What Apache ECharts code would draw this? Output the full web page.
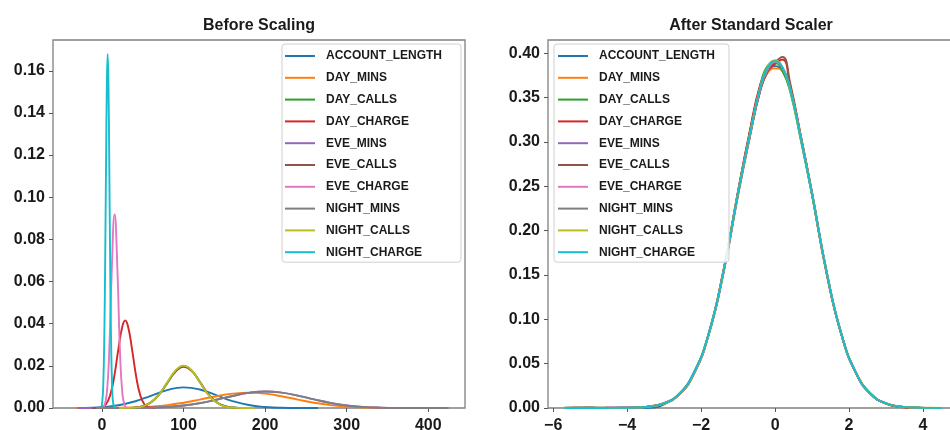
<!DOCTYPE html>
<html>
<head>
<meta charset="utf-8">
<title>Feature densities before and after scaling</title>
<script src="https://cdn.jsdelivr.net/npm/echarts@6/dist/echarts.min.js"></script>
<style>
  html, body { margin: 0; padding: 0; background: #fff; }
  #chart { width: 950px; height: 430px; }
</style>
</head>
<body>
<div id="chart"></div>
<script>
// Feature names, in plotting order
const FEATURES = ['ACCOUNT_LENGTH', 'DAY_MINS', 'DAY_CALLS', 'DAY_CHARGE', 'EVE_MINS',
  'EVE_CALLS', 'EVE_CHARGE', 'NIGHT_MINS', 'NIGHT_CALLS', 'NIGHT_CHARGE'];
const COLORS = ['#1f77b4', '#ff7f0e', '#2ca02c', '#d62728', '#9467bd',
  '#8c564b', '#e377c2', '#7f7f7f', '#bcbd22', '#17becf'];

// Tick labels
const RAW_X_TICKS = [0, 100, 200, 300, 400];
const RAW_Y_TICKS = [0, 0.02, 0.04, 0.06, 0.08, 0.10, 0.12, 0.14, 0.16];
const SCALED_X_TICKS = [-6, -4, -2, 0, 2, 4];
const SCALED_Y_TICKS = [0, 0.05, 0.10, 0.15, 0.20, 0.25, 0.30, 0.35, 0.40];

// Density curves of the raw features (x = feature value, y = density)
const RAW_ACCOUNT_LENGTH_X = [-22, 0, 20, 40, 60, 80, 100, 120, 140, 160, 180, 200, 220, 245, 265];
const RAW_ACCOUNT_LENGTH_Y = [0, 0.0004, 0.0013, 0.0031, 0.0058, 0.0085, 0.0098, 0.0088, 0.0061, 0.0033, 0.0014, 0.0005, 0.00012, 0.00002, 0];

const RAW_DAY_MINS_X = [-32, 0, 40, 60, 80, 100, 120, 140, 160, 180, 200, 220, 240, 260, 280, 300, 320, 350, 383];
const RAW_DAY_MINS_Y = [0, 0.00003, 0.00027, 0.00065, 0.00136, 0.0025, 0.0040, 0.0056, 0.0068, 0.0073, 0.0068, 0.0056, 0.0040, 0.0025, 0.00136, 0.00065, 0.00027, 0.00005, 0];

const RAW_DAY_CALLS_X = [-12, 0, 30, 40, 50, 60, 70, 80, 90, 100, 110, 120, 130, 140, 150, 160, 177];
const RAW_DAY_CALLS_Y = [0, 0.00005, 0.00005, 0.0002, 0.00085, 0.0026, 0.0063, 0.0118, 0.0173, 0.0198, 0.0177, 0.0123, 0.0067, 0.0028, 0.0009, 0.00025, 0];

const RAW_DAY_CHARGE_X = [-5, 0, 5, 10, 15, 20, 25, 28.5, 32, 37, 42, 47, 52, 57, 62, 66];
const RAW_DAY_CHARGE_Y = [0, 0.0004, 0.0018, 0.0060, 0.0148, 0.0276, 0.0387, 0.0415, 0.0387, 0.0276, 0.0148, 0.0060, 0.0018, 0.0004, 0.0001, 0];

const RAW_EVE_MINS_X = [-30, 0, 40, 60, 80, 100, 120, 140, 160, 180, 201, 220, 240, 260, 280, 300, 320, 340, 365, 394];
const RAW_EVE_MINS_Y = [0, 0.00001, 0.00006, 0.00019, 0.0005, 0.00116, 0.0023, 0.0039, 0.0057, 0.0072, 0.0078, 0.0073, 0.0059, 0.0041, 0.0024, 0.00125, 0.00055, 0.0002, 0.00005, 0];

const RAW_EVE_CALLS_X = [-12, 0, 30, 40, 50, 60, 70, 80, 90, 100, 110, 120, 130, 140, 150, 160, 170, 182];
const RAW_EVE_CALLS_Y = [0, 0.00005, 0.00006, 0.0002, 0.0009, 0.0027, 0.0065, 0.0119, 0.0172, 0.0196, 0.0176, 0.0124, 0.0068, 0.0029, 0.0010, 0.0003, 0.00006, 0];

const RAW_EVE_CHARGE_X = [-3, 0, 3, 6, 9, 12, 15.5, 19, 22, 25, 28, 31, 34];
const RAW_EVE_CHARGE_Y = [0, 0.0001, 0.0011, 0.0071, 0.0278, 0.0650, 0.0920, 0.0650, 0.0278, 0.0071, 0.0011, 0.0001, 0];

const RAW_NIGHT_MINS_X = [-7, 40, 60, 80, 100, 120, 140, 160, 180, 201, 220, 240, 260, 280, 300, 320, 340, 370, 400, 425];
const RAW_NIGHT_MINS_Y = [0, 0.00006, 0.0002, 0.0005, 0.0012, 0.0023, 0.0039, 0.0057, 0.0072, 0.0078, 0.0073, 0.0059, 0.0041, 0.0024, 0.0012, 0.00055, 0.0002, 0.00003, 0.00001, 0];

const RAW_NIGHT_CALLS_X = [21, 30, 40, 50, 60, 70, 80, 90, 100, 110, 120, 130, 140, 150, 160, 175, 187];
const RAW_NIGHT_CALLS_Y = [0, 0.00004, 0.0002, 0.0008, 0.0027, 0.0064, 0.0121, 0.0177, 0.0201, 0.0178, 0.0123, 0.0065, 0.0027, 0.0008, 0.0002, 0.00002, 0];

const RAW_NIGHT_CHARGE_X = [-1, 0, 1.5, 3, 4, 5, 6, 7, 8, 9, 10, 11, 12.5, 14, 16];
const RAW_NIGHT_CHARGE_Y = [0, 0.0016, 0.0096, 0.0370, 0.0718, 0.1150, 0.1530, 0.1680, 0.1530, 0.1150, 0.0718, 0.0370, 0.0096, 0.0016, 0];

// Density curves after standard scaling, all on one grid of z-scores
const SCALED_X = [-5.7, -5.4, -5.0, -4.6, -4.2, -3.8, -3.4, -3.0, -2.6, -2.2, -1.8, -1.4, -1.0, -0.7, -0.4,
  -0.2, 0, 0.2, 0.4, 0.7, 1.0, 1.4, 1.8, 2.2, 2.6, 3.0, 3.4, 3.8, 4.2, 4.5];
const SCALED_ACCOUNT_LENGTH = [0, 0, 0, 0, 0, 0, 0.0003, 0.0042, 0.0158, 0.0398, 0.0835, 0.1530, 0.2425, 0.3030, 0.3580,
  0.3790, 0.3855, 0.3800, 0.3600, 0.3050, 0.2430, 0.1520, 0.0815, 0.0380, 0.0150, 0.0050, 0.0014, 0.0003, 0, 0];
const SCALED_DAY_MINS = [0, 0, 0, 0, 0, 0.0002, 0.0018, 0.0055, 0.0150, 0.0380, 0.0830, 0.1540, 0.2440, 0.3060, 0.3590,
  0.3780, 0.3830, 0.3800, 0.3620, 0.3060, 0.2410, 0.1510, 0.0820, 0.0390, 0.0155, 0.0050, 0.0012, 0.0002, 0, 0];
const SCALED_DAY_CALLS = [0, 0.0003, 0.0006, 0.0002, 0.0002, 0.0004, 0.0015, 0.0050, 0.0155, 0.0390, 0.0830, 0.1535, 0.2440, 0.3080, 0.3640,
  0.3860, 0.3890, 0.3800, 0.3580, 0.3010, 0.2400, 0.1520, 0.0820, 0.0385, 0.0150, 0.0052, 0.0015, 0.0003, 0, 0];
const SCALED_DAY_CHARGE = [0, 0, 0, 0, 0, 0.0002, 0.0018, 0.0055, 0.0150, 0.0380, 0.0825, 0.1545, 0.2450, 0.3090, 0.3650,
  0.3800, 0.3880, 0.3930, 0.3650, 0.3040, 0.2400, 0.1500, 0.0820, 0.0390, 0.0155, 0.0050, 0.0012, 0.0002, 0, 0];
const SCALED_EVE_MINS = [0, 0, 0.0001, 0.0002, 0.0004, 0.0006, 0.0016, 0.0052, 0.0150, 0.0385, 0.0820, 0.1520, 0.2420, 0.3040, 0.3600,
  0.3820, 0.3900, 0.3840, 0.3620, 0.3050, 0.2420, 0.1520, 0.0820, 0.0382, 0.0150, 0.0052, 0.0015, 0.0004, 0.0001, 0];
const SCALED_EVE_CALLS = [0.0002, 0.0006, 0.0005, 0.0002, 0.0002, 0.0005, 0.0016, 0.0050, 0.0150, 0.0382, 0.0818, 0.1510, 0.2400, 0.3020, 0.3580,
  0.3800, 0.3900, 0.3960, 0.3680, 0.3060, 0.2420, 0.1520, 0.0825, 0.0385, 0.0152, 0.0052, 0.0016, 0.0004, 0.0001, 0];
const SCALED_EVE_CHARGE = [0, 0, 0.0001, 0.0002, 0.0004, 0.0006, 0.0016, 0.0052, 0.0150, 0.0386, 0.0822, 0.1522, 0.2420, 0.3040, 0.3600,
  0.3820, 0.3900, 0.3840, 0.3620, 0.3050, 0.2420, 0.1520, 0.0822, 0.0382, 0.0150, 0.0052, 0.0015, 0.0004, 0.0001, 0];
const SCALED_NIGHT_MINS = [0, 0, 0, 0, 0.0002, 0.0005, 0.0017, 0.0054, 0.0155, 0.0390, 0.0830, 0.1530, 0.2430, 0.3050, 0.3620,
  0.3840, 0.3920, 0.3840, 0.3610, 0.3030, 0.2410, 0.1520, 0.0825, 0.0388, 0.0155, 0.0053, 0.0016, 0.0005, 0.0001, 0];
const SCALED_NIGHT_CALLS = [0, 0, 0, 0, 0.0001, 0.0004, 0.0016, 0.0052, 0.0152, 0.0385, 0.0825, 0.1530, 0.2430, 0.3050, 0.3620,
  0.3850, 0.3920, 0.3840, 0.3600, 0.3030, 0.2410, 0.1520, 0.0825, 0.0388, 0.0155, 0.0053, 0.0016, 0.0005, 0.0002, 0];
const SCALED_NIGHT_CHARGE = [0, 0, 0, 0, 0.0002, 0.0005, 0.0017, 0.0054, 0.0155, 0.0390, 0.0830, 0.1530, 0.2430, 0.3050, 0.3620,
  0.3840, 0.3910, 0.3840, 0.3610, 0.3030, 0.2410, 0.1520, 0.0825, 0.0388, 0.0155, 0.0053, 0.0016, 0.0005, 0.0001, 0];

const RAW_X = {
  ACCOUNT_LENGTH: RAW_ACCOUNT_LENGTH_X, DAY_MINS: RAW_DAY_MINS_X, DAY_CALLS: RAW_DAY_CALLS_X,
  DAY_CHARGE: RAW_DAY_CHARGE_X, EVE_MINS: RAW_EVE_MINS_X, EVE_CALLS: RAW_EVE_CALLS_X,
  EVE_CHARGE: RAW_EVE_CHARGE_X, NIGHT_MINS: RAW_NIGHT_MINS_X, NIGHT_CALLS: RAW_NIGHT_CALLS_X,
  NIGHT_CHARGE: RAW_NIGHT_CHARGE_X
};
const RAW_Y = {
  ACCOUNT_LENGTH: RAW_ACCOUNT_LENGTH_Y, DAY_MINS: RAW_DAY_MINS_Y, DAY_CALLS: RAW_DAY_CALLS_Y,
  DAY_CHARGE: RAW_DAY_CHARGE_Y, EVE_MINS: RAW_EVE_MINS_Y, EVE_CALLS: RAW_EVE_CALLS_Y,
  EVE_CHARGE: RAW_EVE_CHARGE_Y, NIGHT_MINS: RAW_NIGHT_MINS_Y, NIGHT_CALLS: RAW_NIGHT_CALLS_Y,
  NIGHT_CHARGE: RAW_NIGHT_CHARGE_Y
};
const SCALED_Y = {
  ACCOUNT_LENGTH: SCALED_ACCOUNT_LENGTH, DAY_MINS: SCALED_DAY_MINS, DAY_CALLS: SCALED_DAY_CALLS,
  DAY_CHARGE: SCALED_DAY_CHARGE, EVE_MINS: SCALED_EVE_MINS, EVE_CALLS: SCALED_EVE_CALLS,
  EVE_CHARGE: SCALED_EVE_CHARGE, NIGHT_MINS: SCALED_NIGHT_MINS, NIGHT_CALLS: SCALED_NIGHT_CALLS,
  NIGHT_CHARGE: SCALED_NIGHT_CHARGE
};

const FONT = "'Liberation Sans', Arial, Helvetica, sans-serif";
const zip = (xs, ys) => xs.map((x, i) => [x, ys[i]]);
const minus = (v) => String(v).replace('-', '\u2212');

function valueAxis(gridIndex, min, max, ticks, fmt, isX) {
  return {
    type: 'value', gridIndex, min, max,
    axisLine: { show: false, onZero: false },
    splitLine: { show: false },
    axisTick: {
      show: true, inside: false, length: 4, customValues: ticks,
      lineStyle: { color: '#555', width: 1 }
    },
    axisLabel: {
      customValues: ticks, formatter: fmt, margin: isX ? 10 : 8,
      fontFamily: FONT, fontSize: 16, fontWeight: 'bold', color: '#1a1a1a'
    }
  };
}

function legendAt(left, pad) {
  return {
    orient: 'vertical', left, top: 44, data: FEATURES,
    icon: 'rect', itemWidth: 30, itemHeight: 2, itemGap: 7.8,
    selectedMode: false, padding: pad,
    borderColor: '#cfcfcf', borderWidth: 1, borderRadius: 3,
    backgroundColor: 'rgba(255,255,255,0.85)',
    textStyle: {
      fontFamily: FONT, fontSize: 12, fontWeight: 'bold', color: '#1a1a1a',
      lineHeight: 14, padding: [0, 0, 0, 6]
    }
  };
}

function curve(name, i, axisIndex, data) {
  return {
    name, type: 'line', xAxisIndex: axisIndex, yAxisIndex: axisIndex, data,
    showSymbol: false, symbol: 'none', smooth: 0.5,
    lineStyle: { width: 1.9, color: COLORS[i] }, itemStyle: { color: COLORS[i] },
    emphasis: { disabled: true }
  };
}

const series = [];
FEATURES.forEach((name, i) => series.push(curve(name, i, 0, zip(RAW_X[name], RAW_Y[name]))));
FEATURES.forEach((name, i) => series.push(curve(name, i, 1, zip(SCALED_X, SCALED_Y[name]))));

const chart = echarts.init(document.getElementById('chart'), null, { renderer: 'canvas' });
chart.setOption({
  animation: false,
  backgroundColor: '#fff',
  title: [
    { text: 'Before Scaling', left: 259, top: 18, textAlign: 'center', padding: 0,
      textStyle: { fontFamily: FONT, fontSize: 16, fontWeight: 'bold', color: '#1a1a1a' } },
    { text: 'After Standard Scaler', left: 751, top: 18, textAlign: 'center', padding: 0,
      textStyle: { fontFamily: FONT, fontSize: 16, fontWeight: 'bold', color: '#1a1a1a' } }
  ],
  grid: [
    { left: 53, top: 40, width: 412, height: 368, show: true, borderColor: '#808080', borderWidth: 1.3,
      containLabel: false, outerBoundsMode: 'none' },
    { left: 548, top: 40, width: 412, height: 368, show: true, borderColor: '#808080', borderWidth: 1.3,
      containLabel: false, outerBoundsMode: 'none' }
  ],
  xAxis: [
    valueAxis(0, -60, 445, RAW_X_TICKS, (v) => String(v), true),
    valueAxis(1, -6.14, 5.0, SCALED_X_TICKS, minus, true)
  ],
  yAxis: [
    valueAxis(0, 0, 0.1746, RAW_Y_TICKS, (v) => v.toFixed(2), false),
    valueAxis(1, 0, 0.415, SCALED_Y_TICKS, (v) => v.toFixed(2), false)
  ],
  legend: [legendAt(282, [5, 19, 3, 3]), legendAt(554, [5, 14, 3, 4])],
  series
});
</script>
</body>
</html>
